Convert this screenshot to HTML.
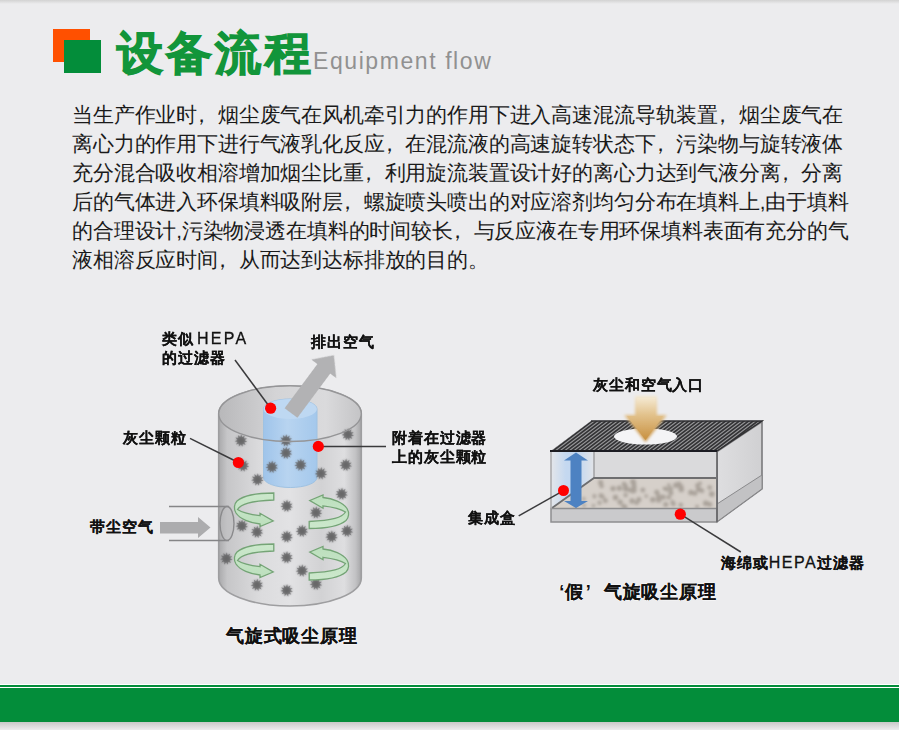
<!DOCTYPE html>
<html><head><meta charset="utf-8">
<style>
html,body{margin:0;padding:0;}
body{width:899px;height:730px;overflow:hidden;background:#ececee;position:relative;font-family:"Liberation Sans",sans-serif;}
.topsh{position:absolute;left:0;top:0;width:899px;height:4px;background:linear-gradient(#d2d2d2,#ececee);}
.sq1{position:absolute;left:53px;top:29px;width:37px;height:33px;background:#ff5000;}
.sq2{position:absolute;left:64px;top:40px;width:37px;height:33px;background:#038d3a;}
.title{position:absolute;left:117px;top:26px;font-size:46px;letter-spacing:3.2px;-webkit-text-stroke:1.2px #12953a;font-weight:bold;color:#12953a;line-height:54px;white-space:nowrap;}
.en{position:absolute;left:313px;top:47px;font-size:23px;letter-spacing:1.58px;color:#919191;line-height:28px;white-space:nowrap;}
.para{position:absolute;left:72px;top:100px;font-size:20.7px;letter-spacing:-0.16px;line-height:29px;color:#1a1a1a;white-space:nowrap;}
.para div{height:29px;}
.cm{display:inline-block;position:relative;left:-6px;}
.bar-w1{position:absolute;left:0;top:684px;width:899px;height:1px;background:#fff;}
.bar-g1{position:absolute;left:0;top:685px;width:899px;height:2px;background:#038d3a;}
.bar-w2{position:absolute;left:0;top:687px;width:899px;height:1px;background:#fff;}
.bar-g2{position:absolute;left:0;top:688px;width:899px;height:34px;background:#038d3a;}
.bar-sh{position:absolute;left:0;top:722px;width:899px;height:8px;background:linear-gradient(#c8c8c8,#ececee);}
svg{position:absolute;left:0;top:0;}
.lbl{position:absolute;font-size:15px;line-height:19px;font-weight:bold;letter-spacing:0.9px;color:#111;-webkit-text-stroke:0.15px #111;white-space:nowrap;}
.lat{font-weight:bold;letter-spacing:2px;font-size:14.5px;}
.lat2{font-weight:normal;letter-spacing:1.5px;font-size:16px;-webkit-text-stroke:0.3px #111;}
.cap{position:absolute;font-size:18px;line-height:22px;font-weight:bold;letter-spacing:0.78px;color:#111;-webkit-text-stroke:0.1px #111;white-space:nowrap;text-shadow:0 0 1.5px #fff,0 0 1.5px #fff,0 0 1.5px #fff;}
</style></head><body>
<div class="topsh"></div>
<div class="sq1"></div><div class="sq2"></div>
<div class="title">设备流程</div>
<div class="en">Equipment flow</div>
<div class="para">
<div>当生产作业时<span class="cm">，</span>烟尘废气在风机牵引力的作用下进入高速混流导轨装置<span class="cm">，</span>烟尘废气在</div>
<div>离心力的作用下进行气液乳化反应<span class="cm">，</span>在混流液的高速旋转状态下<span class="cm">，</span>污染物与旋转液体</div>
<div>充分混合吸收相溶增加烟尘比重<span class="cm">，</span>利用旋流装置设计好的离心力达到气液分离<span class="cm">，</span>分离</div>
<div>后的气体进入环保填料吸附层<span class="cm">，</span>螺旋喷头喷出的对应溶剂均匀分布在填料上,由于填料</div>
<div>的合理设计,污染物浸透在填料的时间较长<span class="cm">，</span>与反应液在专用环保填料表面有充分的气</div>
<div>液相溶反应时间<span class="cm">，</span>从而达到达标排放的目的。</div>
</div>
<svg width="899" height="730" viewBox="0 0 899 730">
<defs>
<filter id="soft" x="-10%" y="-10%" width="120%" height="120%"><feGaussianBlur stdDeviation="0.5"/></filter>
<filter id="soft2" x="-50%" y="-50%" width="200%" height="200%"><feGaussianBlur stdDeviation="0.7"/></filter>
<filter id="soft3" x="-50%" y="-50%" width="200%" height="200%"><feGaussianBlur stdDeviation="1.4"/></filter>
<linearGradient id="cyl" x1="0" x2="1" y1="0" y2="0">
<stop offset="0" stop-color="#a9a9ab"/><stop offset="0.06" stop-color="#c6c6c8"/><stop offset="0.3" stop-color="#dcdcde"/>
<stop offset="0.5" stop-color="#e2e2e4"/><stop offset="0.72" stop-color="#d2d2d4"/><stop offset="0.88" stop-color="#dedee0"/><stop offset="0.96" stop-color="#c2c2c4"/><stop offset="1" stop-color="#a5a5a7"/>
</linearGradient>
<linearGradient id="cyltop" x1="0" x2="1" y1="0" y2="0">
<stop offset="0" stop-color="#b8b8ba"/><stop offset="0.4" stop-color="#d4d4d6"/><stop offset="0.75" stop-color="#dadadc"/><stop offset="1" stop-color="#c4c4c6"/>
</linearGradient>
<linearGradient id="blue" x1="0" x2="1" y1="0" y2="0">
<stop offset="0" stop-color="#9fc4ea"/><stop offset="0.45" stop-color="#b8d4f0"/><stop offset="1" stop-color="#a4c8ec"/>
</linearGradient>
<linearGradient id="garrow" x1="0" x2="0" y1="0" y2="1">
<stop offset="0" stop-color="#cce8cc"/><stop offset="1" stop-color="#bcdfbd"/>
</linearGradient>
<linearGradient id="tan" x1="0" x2="0" y1="0" y2="1">
<stop offset="0" stop-color="#f4e8d0"/><stop offset="0.4" stop-color="#e2c28c"/><stop offset="1" stop-color="#c89040"/>
</linearGradient>
<linearGradient id="rface" x1="0" x2="1" y1="0" y2="0">
<stop offset="0" stop-color="#dedee0"/><stop offset="1" stop-color="#d0d0d2"/>
</linearGradient>
<linearGradient id="lblue" x1="0" x2="1" y1="0" y2="0">
<stop offset="0" stop-color="#e4e6ea"/><stop offset="0.35" stop-color="#c4d8f0"/><stop offset="0.65" stop-color="#c4d8f0"/><stop offset="1" stop-color="#e2e4e8"/>
</linearGradient>
<g id="dust"><polygon points="6.27,1.27 3.18,1.68 4.59,4.46 1.77,3.13 1.45,6.23 -0.21,3.59 -2.15,6.03 -2.12,2.91 -5.07,3.91 -3.35,1.31 -6.38,0.55 -3.53,-0.72 -5.66,-2.99 -2.58,-2.51 -3.15,-5.57 -0.82,-3.51 0.37,-6.39 1.21,-3.39 3.76,-5.18 2.85,-2.20 5.96,-2.32 3.59,-0.31" fill="#636365"/><circle r="3.6" fill="#5e5e60"/></g>
<path id="swirl" d="M39.8,0 C26,0 10,2 3,8 C0,11 -0.5,16 2,20 C6,26 16,30 26,31 L26,33.6 L39.2,28 L26,20.3 L26,22.7 C16,21.5 8,19.5 3.5,16.5 C7,11 16,8 39.8,7 Z"/>
</defs>
<g filter="url(#soft)">
<path d="M218.7,413.7 L218.7,578 A71.3,28 0 0 0 361.3,578 L361.3,413.7 A71.3,27.8 0 0 0 218.7,413.7 Z" fill="url(#cyl)" stroke="#9e9ea0" stroke-width="1.6"/>
<ellipse cx="290" cy="413.7" rx="71.3" ry="27.8" fill="url(#cyltop)" stroke="none"/>
<path d="M263.5,409 L263.5,477.5 A26.7,10 0 0 0 317,477.5 L317,409 A26.7,10 0 0 0 263.5,409 Z" fill="url(#blue)" stroke="#9fc2e2" stroke-width="1"/>
<ellipse cx="290.2" cy="409" rx="26.7" ry="10" fill="#bed8f2"/>
</g>
<g filter="url(#soft3)" opacity="0.9"><circle cx="241.0" cy="440.6" r="4.4" fill="#6a6a6c"/><circle cx="286.0" cy="440.6" r="4.4" fill="#6a6a6c"/><circle cx="286.0" cy="453.0" r="4.4" fill="#6a6a6c"/><circle cx="347.8" cy="434.5" r="4.4" fill="#6a6a6c"/><circle cx="271.9" cy="467.0" r="4.4" fill="#6a6a6c"/><circle cx="300.6" cy="465.0" r="4.4" fill="#6a6a6c"/><circle cx="321.0" cy="473.5" r="4.4" fill="#6a6a6c"/><circle cx="345.8" cy="465.0" r="4.4" fill="#6a6a6c"/><circle cx="257.5" cy="479.6" r="4.4" fill="#6a6a6c"/><circle cx="341.7" cy="494.0" r="4.4" fill="#6a6a6c"/><circle cx="286.7" cy="506.0" r="4.4" fill="#6a6a6c"/><circle cx="316.0" cy="512.6" r="4.4" fill="#6a6a6c"/><circle cx="241.8" cy="525.8" r="4.4" fill="#6a6a6c"/><circle cx="257.0" cy="532.0" r="4.4" fill="#6a6a6c"/><circle cx="286.7" cy="536.7" r="4.4" fill="#6a6a6c"/><circle cx="302.0" cy="531.0" r="4.4" fill="#6a6a6c"/><circle cx="331.6" cy="536.7" r="4.4" fill="#6a6a6c"/><circle cx="347.0" cy="531.0" r="4.4" fill="#6a6a6c"/><circle cx="226.4" cy="558.6" r="4.4" fill="#6a6a6c"/><circle cx="286.7" cy="557.5" r="4.4" fill="#6a6a6c"/><circle cx="302.0" cy="570.7" r="4.4" fill="#6a6a6c"/><circle cx="257.0" cy="585.0" r="4.4" fill="#6a6a6c"/><circle cx="286.7" cy="590.4" r="4.4" fill="#6a6a6c"/><circle cx="316.0" cy="584.0" r="4.4" fill="#6a6a6c"/><circle cx="243.0" cy="465.6" r="4.4" fill="#6a6a6c"/></g><g opacity="0.6" filter="url(#soft)"><use href="#dust" x="241.0" y="440.6"/><use href="#dust" x="286.0" y="440.6"/><use href="#dust" x="286.0" y="453.0"/><use href="#dust" x="347.8" y="434.5"/><use href="#dust" x="271.9" y="467.0"/><use href="#dust" x="300.6" y="465.0"/><use href="#dust" x="321.0" y="473.5"/><use href="#dust" x="345.8" y="465.0"/><use href="#dust" x="257.5" y="479.6"/><use href="#dust" x="341.7" y="494.0"/><use href="#dust" x="286.7" y="506.0"/><use href="#dust" x="316.0" y="512.6"/><use href="#dust" x="241.8" y="525.8"/><use href="#dust" x="257.0" y="532.0"/><use href="#dust" x="286.7" y="536.7"/><use href="#dust" x="302.0" y="531.0"/><use href="#dust" x="331.6" y="536.7"/><use href="#dust" x="347.0" y="531.0"/><use href="#dust" x="226.4" y="558.6"/><use href="#dust" x="286.7" y="557.5"/><use href="#dust" x="302.0" y="570.7"/><use href="#dust" x="257.0" y="585.0"/><use href="#dust" x="286.7" y="590.4"/><use href="#dust" x="316.0" y="584.0"/><use href="#dust" x="243.0" y="465.6"/></g>
<g filter="url(#soft)">
<ellipse cx="290" cy="413.7" rx="71.3" ry="27.8" fill="none" stroke="#959597" stroke-width="1.4"/>
<g fill="url(#garrow)" stroke="#74a476" stroke-width="1.3">
<use href="#swirl" x="234" y="493"/>
<use href="#swirl" x="234" y="544"/>
<use href="#swirl" transform="translate(349,528.5) rotate(180)"/>
<use href="#swirl" transform="translate(349,580) rotate(180)"/>
</g>
<line x1="169" y1="506.5" x2="229" y2="506.5" stroke="#858587" stroke-width="1.6"/>
<line x1="169" y1="540.5" x2="229" y2="540.5" stroke="#858587" stroke-width="1.6"/>
<ellipse cx="227" cy="523.5" rx="7" ry="17" fill="#bdbdbf" fill-opacity="0.5" stroke="#8a8a8c" stroke-width="1.4"/>
<polygon points="160,522 198,522 198,517 210.5,527.5 198,538 198,533.5 160,533.5" fill="#acacae"/>
<g transform="translate(291,413) rotate(-53.4)" filter="url(#soft2)">
<polygon points="0,-8 55,-8 55,-15.5 72,0 55,15.5 55,8 0,8" fill="#b2b2b4"/>
</g>
</g>

<g filter="url(#soft)">
<polygon points="717,451.5 762,421.5 762,488.8 717,521.7" fill="url(#rface)" stroke="#7a7a7c" stroke-width="1.6"/>
<polygon points="717,504 762,475 762,488.8 717,521.7" fill="#c2c2c4" stroke="#8a8a8c" stroke-width="1"/>
<rect x="551" y="451" width="166" height="57" fill="#dadadc"/>
<rect x="551" y="451" width="43" height="57" fill="url(#lblue)"/>
<polygon points="594,478 716,478 716,508.5 552,508.5" fill="#d6d0ca"/>
<g fill="#9c948c" opacity="0.8" filter="url(#soft3)"><circle cx="625.6" cy="495.1" r="2.2"/><circle cx="668.1" cy="497.3" r="1.9"/><circle cx="599.5" cy="502.8" r="2.1"/><circle cx="625.2" cy="506.9" r="2.3"/><circle cx="695.0" cy="493.4" r="2.4"/><circle cx="615.5" cy="497.5" r="2.7"/><circle cx="658.7" cy="500.3" r="2.5"/><circle cx="605.4" cy="500.7" r="2.4"/><circle cx="632.9" cy="481.8" r="2.7"/><circle cx="652.8" cy="499.7" r="2.7"/><circle cx="680.8" cy="504.9" r="2.2"/><circle cx="690.9" cy="492.6" r="2.7"/><circle cx="699.9" cy="483.5" r="1.9"/><circle cx="623.2" cy="506.1" r="2.2"/><circle cx="670.7" cy="488.8" r="2.3"/><circle cx="642.8" cy="490.1" r="2.4"/><circle cx="665.8" cy="504.5" r="2.5"/><circle cx="705.8" cy="503.3" r="2.8"/><circle cx="675.9" cy="485.2" r="2.7"/><circle cx="709.9" cy="504.5" r="2.4"/><circle cx="680.8" cy="486.5" r="2.6"/><circle cx="664.5" cy="488.4" r="1.9"/><circle cx="697.1" cy="506.7" r="1.9"/><circle cx="690.9" cy="491.7" r="2.0"/><circle cx="632.1" cy="501.0" r="2.7"/><circle cx="603.1" cy="497.0" r="1.8"/><circle cx="681.3" cy="489.6" r="2.7"/><circle cx="711.8" cy="494.1" r="2.8"/><circle cx="633.9" cy="483.0" r="2.4"/><circle cx="601.6" cy="486.1" r="2.2"/><circle cx="668.8" cy="485.1" r="1.8"/><circle cx="698.7" cy="489.2" r="2.8"/><circle cx="702.0" cy="490.8" r="2.3"/><circle cx="658.3" cy="497.7" r="2.4"/><circle cx="662.9" cy="497.1" r="2.7"/><circle cx="656.8" cy="492.2" r="2.5"/><circle cx="625.6" cy="488.8" r="2.8"/><circle cx="658.5" cy="495.3" r="1.8"/><circle cx="646.2" cy="496.1" r="1.8"/><circle cx="669.4" cy="497.4" r="1.9"/><circle cx="670.8" cy="493.1" r="2.5"/><circle cx="638.9" cy="499.4" r="2.5"/><circle cx="600.6" cy="482.6" r="2.5"/><circle cx="709.7" cy="487.5" r="2.3"/><circle cx="666.7" cy="489.3" r="2.2"/><circle cx="634.3" cy="490.6" r="2.4"/><circle cx="632.8" cy="490.8" r="2.6"/><circle cx="601.1" cy="495.8" r="2.5"/><circle cx="634.0" cy="486.8" r="2.6"/><circle cx="625.7" cy="485.9" r="2.2"/><circle cx="679.0" cy="483.6" r="2.1"/><circle cx="636.7" cy="502.7" r="2.2"/><circle cx="697.2" cy="485.4" r="2.1"/><circle cx="673.4" cy="504.0" r="2.3"/><circle cx="624.1" cy="484.1" r="2.3"/><circle cx="620.1" cy="502.0" r="2.6"/><circle cx="619.3" cy="488.2" r="2.6"/><circle cx="672.5" cy="502.0" r="2.1"/><circle cx="613.0" cy="488.6" r="2.6"/><circle cx="629.5" cy="490.0" r="2.2"/><circle cx="583.8" cy="498.9" r="1.8"/><circle cx="594.3" cy="495.9" r="1.8"/><circle cx="575.1" cy="505.3" r="1.8"/><circle cx="593.5" cy="505.8" r="1.8"/><circle cx="584.1" cy="505.4" r="1.8"/><circle cx="594.5" cy="496.7" r="1.8"/></g>
<line x1="594" y1="452" x2="594" y2="478" stroke="#9c9c9e" stroke-width="1.4"/>
<polyline points="552,508 594,478 716,478" fill="none" stroke="#6e6e70" stroke-width="1.8"/>
<rect x="551" y="508.5" width="166" height="13.5" fill="#cacacc" stroke="#8e8e90" stroke-width="1.5"/>
<line x1="551" y1="451" x2="551" y2="509" stroke="#a4a4a6" stroke-width="1.4"/>
<line x1="717" y1="451" x2="717" y2="522" stroke="#6a6a6c" stroke-width="1.8"/>
<polygon points="551,451 717,451 762,421 591,421" fill="#333335"/>
<clipPath id="topclip"><polygon points="551,451 717,451 762,421 591,421"/></clipPath>
<g clip-path="url(#topclip)" stroke="#9a9a9c" stroke-width="1.1"><line x1="540.0" y1="452" x2="582.0" y2="420"/><line x1="544.6" y1="452" x2="586.6" y2="420"/><line x1="549.2" y1="452" x2="591.2" y2="420"/><line x1="553.8" y1="452" x2="595.8" y2="420"/><line x1="558.4" y1="452" x2="600.4" y2="420"/><line x1="563.0" y1="452" x2="605.0" y2="420"/><line x1="567.6" y1="452" x2="609.6" y2="420"/><line x1="572.2" y1="452" x2="614.2" y2="420"/><line x1="576.8" y1="452" x2="618.8" y2="420"/><line x1="581.4" y1="452" x2="623.4" y2="420"/><line x1="586.0" y1="452" x2="628.0" y2="420"/><line x1="590.6" y1="452" x2="632.6" y2="420"/><line x1="595.2" y1="452" x2="637.2" y2="420"/><line x1="599.8" y1="452" x2="641.8" y2="420"/><line x1="604.4" y1="452" x2="646.4" y2="420"/><line x1="609.0" y1="452" x2="651.0" y2="420"/><line x1="613.6" y1="452" x2="655.6" y2="420"/><line x1="618.2" y1="452" x2="660.2" y2="420"/><line x1="622.8" y1="452" x2="664.8" y2="420"/><line x1="627.4" y1="452" x2="669.4" y2="420"/><line x1="632.0" y1="452" x2="674.0" y2="420"/><line x1="636.6" y1="452" x2="678.6" y2="420"/><line x1="641.2" y1="452" x2="683.2" y2="420"/><line x1="645.8" y1="452" x2="687.8" y2="420"/><line x1="650.4" y1="452" x2="692.4" y2="420"/><line x1="655.0" y1="452" x2="697.0" y2="420"/><line x1="659.6" y1="452" x2="701.6" y2="420"/><line x1="664.2" y1="452" x2="706.2" y2="420"/><line x1="668.8" y1="452" x2="710.8" y2="420"/><line x1="673.4" y1="452" x2="715.4" y2="420"/><line x1="678.0" y1="452" x2="720.0" y2="420"/><line x1="682.6" y1="452" x2="724.6" y2="420"/><line x1="687.2" y1="452" x2="729.2" y2="420"/><line x1="691.8" y1="452" x2="733.8" y2="420"/><line x1="696.4" y1="452" x2="738.4" y2="420"/><line x1="701.0" y1="452" x2="743.0" y2="420"/><line x1="705.6" y1="452" x2="747.6" y2="420"/><line x1="710.2" y1="452" x2="752.2" y2="420"/><line x1="714.8" y1="452" x2="756.8" y2="420"/><line x1="719.4" y1="452" x2="761.4" y2="420"/><line x1="724.0" y1="452" x2="766.0" y2="420"/></g>
<line x1="550" y1="451" x2="717" y2="451" stroke="#1e1e20" stroke-width="2.2"/>
<polyline points="717,451 762,421 591,421" fill="none" stroke="#2e2e30" stroke-width="1.4"/>
<ellipse cx="645.5" cy="436.5" rx="31.5" ry="8" fill="#f4f4f6"/>
<polygon points="576,452.5 588,460.5 581.5,460.5 581.5,501 588,501 576,508 564,501 570.5,501 570.5,460.5 564,460.5" fill="#4d82c2"/>
</g>
<g filter="url(#soft3)"><polygon points="635,396 657,396 657,415 667,415 645.5,442 624,415 635,415" fill="url(#tan)"/></g>
<g filter="url(#soft)"><polygon points="637,398 655,398 655,416 663,416 645.5,440 627,416 637,416" fill="url(#tan)"/></g>
<g stroke="#3a3a3c" stroke-width="1.5" fill="none">
<line x1="235" y1="360" x2="270.6" y2="408.2"/>
<line x1="190" y1="438.4" x2="238.4" y2="462.5"/>
<line x1="318.3" y1="446.4" x2="386" y2="446.4"/>
<line x1="518.7" y1="515.8" x2="563.5" y2="490.7"/>
<line x1="680.3" y1="514.2" x2="740.8" y2="552"/>
</g>
<g fill="#ff0000">
<circle cx="270.6" cy="408.2" r="5.6"/><circle cx="318.3" cy="446.4" r="5.6"/><circle cx="238.4" cy="462.5" r="5.6"/>
<circle cx="563.5" cy="490.5" r="5.5"/><circle cx="680.3" cy="514.2" r="5.6"/>
</g>
</svg>
<div class="lbl" style="left:162px;top:329px">类似 <span class="lat2" style="letter-spacing:2.3px;margin-left:-2px">HEPA</span></div>
<div class="lbl" style="left:162px;top:348px">的过滤器</div>
<div class="lbl" style="left:311px;top:332px">排出空气</div>
<div class="lbl" style="left:123px;top:428px">灰尘颗粒</div>
<div class="lbl" style="left:392px;top:428px">附着在过滤器</div>
<div class="lbl" style="left:392px;top:447px">上的灰尘颗粒</div>
<div class="lbl" style="left:90px;top:517px">带尘空气</div>
<div class="cap" style="left:226px;top:625px">气旋式吸尘原理</div>
<div class="lbl" style="left:593px;top:375px">灰尘和空气入口</div>
<div class="lbl" style="left:468px;top:508px">集成盒</div>
<div class="lbl" style="left:721px;top:553px">海绵或<span class="lat2">HEPA</span>过滤器</div>
<div class="cap" style="left:548px;top:581px"><span style="display:inline-block;width:17px;text-align:right">‘</span>假<span style="display:inline-block;width:20px;text-align:left;padding-left:2px;box-sizing:border-box">’</span>气旋吸尘原理</div>
<div class="bar-w1"></div><div class="bar-g1"></div><div class="bar-w2"></div><div class="bar-g2"></div><div class="bar-sh"></div>
</body></html>
